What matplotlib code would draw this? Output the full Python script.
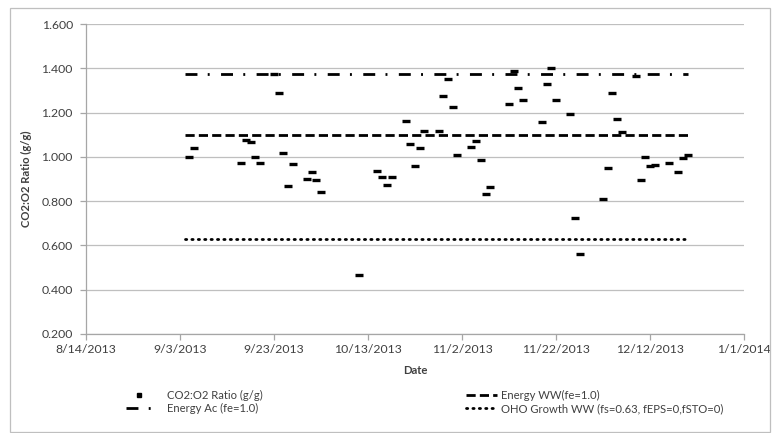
import matplotlib
matplotlib.use("Agg")
import matplotlib.pyplot as plt
from matplotlib.lines import Line2D
from matplotlib.patches import Rectangle
import pandas as pd

plt.rcParams['font.family'] = ['Lato', 'DejaVu Sans']

# Measured CO2:O2 ratios
sample_dates = [
    "2013-09-05", "2013-09-06", "2013-09-16", "2013-09-17", "2013-09-18",
    "2013-09-19", "2013-09-20", "2013-09-23", "2013-09-24", "2013-09-25",
    "2013-09-26", "2013-09-27", "2013-09-30", "2013-10-01", "2013-10-02",
    "2013-10-03", "2013-10-11", "2013-10-15", "2013-10-16", "2013-10-17",
    "2013-10-18", "2013-10-21", "2013-10-22", "2013-10-23", "2013-10-24",
    "2013-10-25", "2013-10-28", "2013-10-29", "2013-10-30", "2013-10-31",
    "2013-11-01", "2013-11-04", "2013-11-05", "2013-11-06", "2013-11-07",
    "2013-11-08", "2013-11-12", "2013-11-13", "2013-11-14", "2013-11-15",
    "2013-11-19", "2013-11-20", "2013-11-21", "2013-11-22", "2013-11-25",
    "2013-11-26", "2013-11-27", "2013-12-02", "2013-12-03", "2013-12-04",
    "2013-12-05", "2013-12-06", "2013-12-09", "2013-12-10", "2013-12-11",
    "2013-12-12", "2013-12-13", "2013-12-16", "2013-12-18", "2013-12-19",
    "2013-12-20",
]
co2_o2_ratio = [
    1.000, 1.041, 0.972, 1.076, 1.068,
    0.999, 0.972, 1.375, 1.290, 1.016,
    0.867, 0.969, 0.900, 0.932, 0.894,
    0.840, 0.466, 0.937, 0.910, 0.873,
    0.910, 1.162, 1.060, 0.960, 1.041,
    1.115, 1.117, 1.276, 1.351, 1.224,
    1.008, 1.046, 1.073, 0.986, 0.831,
    0.864, 1.240, 1.389, 1.311, 1.255,
    1.159, 1.330, 1.401, 1.255, 1.194,
    0.724, 0.563, 0.808, 0.948, 1.290,
    1.170, 1.114, 1.365, 0.894, 1.000,
    0.960, 0.965, 0.972, 0.930, 0.995,
    1.007,
]

# Theoretical reference ratios
reference_dates = ["2013-09-04", "2013-12-20"]
energy_ww = 1.10
energy_ac = 1.375
oho_growth_ww = 0.63

# Axis settings
x_start, x_end = "2013-08-14", "2014-01-01"
y_ticks = [0.2, 0.4, 0.6, 0.8, 1.0, 1.2, 1.4, 1.6]

W, H = 779, 433
fig = plt.figure(figsize=(W / 100, H / 100), dpi=100)
fig.patches.append(Rectangle((10 / W, 1 / H), 760 / W, 424 / H, transform=fig.transFigure,
                             fill=False, edgecolor='#BFBFBF', lw=0.9))

left, right, top, bottom = 86, 744, 24, 334
ax = fig.add_axes([left / W, 1 - bottom / H, (right - left) / W, (bottom - top) / H])

txt = '#404040'
fs = 8.8
lfs = 8.1

DASH_WW = (3.3, 1.5)
DASH_AC = (4.3, 3.7, 0.7, 4.1)
DOT_OHO = (0.45, 1.85)

xd = pd.to_datetime(sample_dates)
rd = pd.to_datetime(reference_dates)

ax.plot(rd, [energy_ww] * 2, color='black', lw=2.0, dashes=DASH_WW,
        dash_capstyle='butt', zorder=2)
ax.plot(rd, [energy_ac] * 2, color='black', lw=2.0, dashes=DASH_AC,
        dash_capstyle='butt', zorder=2)
ax.plot(rd, [oho_growth_ww] * 2, color='black', lw=2.0, dashes=DOT_OHO,
        dash_capstyle='round', zorder=2)
ax.plot(xd, co2_o2_ratio, linestyle='none', marker='_', ms=6.2, mew=2.4,
        color='black', zorder=3)

ax.set_xlim(pd.Timestamp(x_start), pd.Timestamp(x_end))
ax.set_ylim(0.2, 1.6)
ax.set_yticks(y_ticks)
ax.yaxis.set_major_formatter(plt.FuncFormatter(lambda v, p: f"{v:.3f}"))
xt = pd.date_range(x_start, x_end, freq='20D')
ax.set_xticks(xt)
ax.set_xticklabels([f"{d.month}/{d.day}/{d.year}" for d in xt])

ax.grid(axis='y', color='#BFBFBF', lw=0.9)
ax.set_axisbelow(True)
for s in ['top', 'right']:
    ax.spines[s].set_visible(False)
for s in ['left', 'bottom']:
    ax.spines[s].set_color('#A6A6A6')
    ax.spines[s].set_linewidth(0.9)
ax.tick_params(axis='both', colors='#A6A6A6', labelcolor=txt, labelsize=fs,
               length=4, width=0.9, direction='out')
ax.tick_params(axis='y', pad=5.5)
ax.tick_params(axis='x', pad=3.5)

ax.set_xlabel('Date', fontsize=lfs, fontweight='bold', color=txt, labelpad=7)
ax.set_ylabel('CO2:O2 Ratio (g/g)', fontsize=lfs, fontweight='bold', color=txt, labelpad=7)

h_co2 = Line2D([], [], linestyle='none', marker='s', ms=3.2, color='black')
h_ac = Line2D([], [], color='black', lw=2.0, dashes=DASH_AC)
h_ww = Line2D([], [], color='black', lw=2.0, dashes=DASH_WW)
h_oho = Line2D([], [], color='black', lw=2.0, dashes=DOT_OHO, dash_capstyle='round')

kw = dict(frameon=False, fontsize=lfs, borderpad=0, labelspacing=0.22,
          loc='upper left', labelcolor=txt)
fig.legend([h_co2, h_ac], ['CO2:O2 Ratio (g/g)', 'Energy Ac (fe=1.0)'],
           bbox_to_anchor=(120 / W, 1 - 384 / H), handlelength=2.3, handletextpad=1.4, **kw)
fig.legend([h_ww, h_oho], ['Energy WW(fe=1.0)', 'OHO Growth WW (fs=0.63, fEPS=0,fSTO=0)'],
           bbox_to_anchor=(460 / W, 1 - 384 / H), handlelength=2.8, handletextpad=0.35, **kw)

fig.savefig('out.png', dpi=100)
